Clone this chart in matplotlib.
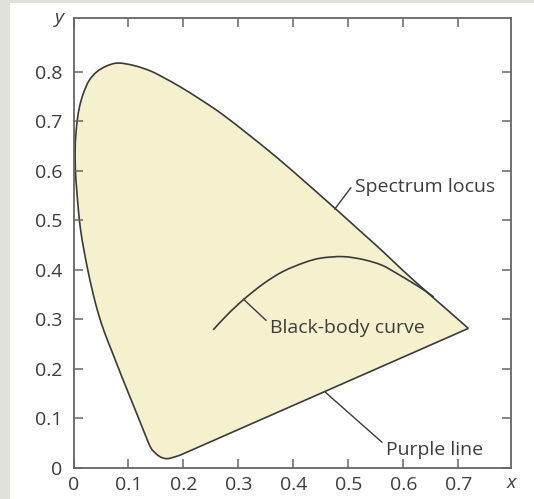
import numpy as np
import matplotlib.pyplot as plt
from matplotlib.patches import Rectangle, PathPatch
from matplotlib.path import Path

# chromaticity coordinates
locus_x = [0.718, 0.680, 0.642, 0.600, 0.560, 0.520, 0.475, 0.420, 0.370, 0.320,
           0.270, 0.230, 0.194, 0.165, 0.140, 0.110, 0.081,
           0.060, 0.042, 0.028, 0.018, 0.011, 0.007, 0.004, 0.003, 0.0035, 0.006,
           0.009, 0.013, 0.019, 0.026, 0.035, 0.045, 0.057, 0.069, 0.088, 0.1135,
           0.133, 0.141, 0.149, 0.157, 0.165, 0.172, 0.180, 0.194]
locus_y = [0.282, 0.319, 0.356, 0.398, 0.440, 0.480, 0.525, 0.579, 0.627, 0.672,
           0.715, 0.745, 0.770, 0.788, 0.802, 0.813, 0.818,
           0.812, 0.800, 0.782, 0.757, 0.730, 0.703, 0.670, 0.642, 0.600, 0.560,
           0.520, 0.480, 0.440, 0.400, 0.355, 0.3125, 0.272, 0.238, 0.184, 0.114,
           0.060, 0.040, 0.030, 0.023, 0.0195, 0.019, 0.021, 0.026]

blackbody_x = [0.254, 0.280, 0.309, 0.345, 0.381, 0.420, 0.450, 0.490, 0.527,
               0.560, 0.588, 0.615, 0.642, 0.655]
blackbody_y = [0.279, 0.310, 0.340, 0.372, 0.397, 0.415, 0.424, 0.427, 0.421,
               0.410, 0.393, 0.375, 0.356, 0.345]

x_ticks = [0, 0.1, 0.2, 0.3, 0.4, 0.5, 0.6, 0.7]
y_ticks = [0, 0.1, 0.2, 0.3, 0.4, 0.5, 0.6, 0.7, 0.8]
tick_labels_x = ["0", "0.1", "0.2", "0.3", "0.4", "0.5", "0.6", "0.7"]
tick_labels_y = ["0", "0.1", "0.2", "0.3", "0.4", "0.5", "0.6", "0.7", "0.8"]

labels = ["Spectrum locus", "Black-body curve", "Purple line"]
label_xy = [(0.511, 0.567), (0.357, 0.282), (0.568, 0.036)]
leader_from = [(0.475, 0.523), (0.309, 0.341), (0.458, 0.153)]

txt = '#3d3d3d'
line = '#3a3a3a'
spine = '#666666'


def smooth_path(xs, ys, closed_tail=None):
    # Catmull-Rom through the points, drawn as cubic Bezier segments
    pts = np.column_stack([xs, ys])
    verts = [pts[0]]
    codes = [Path.MOVETO]
    n = len(pts)
    for i in range(n - 1):
        p0 = pts[max(i - 1, 0)]
        p1, p2 = pts[i], pts[i + 1]
        p3 = pts[min(i + 2, n - 1)]
        verts += [p1 + (p2 - p0) / 6, p2 - (p3 - p1) / 6, p2]
        codes += [Path.CURVE4] * 3
    if closed_tail is not None:
        verts.append(closed_tail)
        codes.append(Path.LINETO)
    return Path(verts, codes)


plt.rcParams['font.family'] = ['Open Sans', 'DejaVu Sans']

fig = plt.figure(figsize=(5.34, 4.99), dpi=100, facecolor='#dfe1da')
fig.patches.append(Rectangle((10 / 534, 0), 1, 496 / 499, transform=fig.transFigure,
                             facecolor='white', edgecolor='none', zorder=-10))
ax = fig.add_axes([73.5 / 534, 31 / 499, 437.5 / 534, 450 / 499])
ax.set_facecolor('white')

# locus as a smooth curve, closed by the straight purple line
locus = smooth_path(locus_x, locus_y, closed_tail=(locus_x[0], locus_y[0]))
ax.add_patch(PathPatch(locus, facecolor='#f5f0cd', edgecolor=line, lw=1.2,
                       joinstyle='round', zorder=1))
bb = smooth_path(blackbody_x, blackbody_y)
ax.add_patch(PathPatch(bb, facecolor='none', edgecolor=line, lw=1.2, zorder=2))

ax.set_xlim(0, 0.7955)
ax.set_ylim(0, 0.909)
ax.set_xticks(x_ticks, tick_labels_x)
ax.set_yticks(y_ticks, tick_labels_y)
ax.tick_params(direction='in', length=6.5, width=1.1, color=spine, labelcolor=txt,
               labelsize=14, top=True, right=True)
ax.tick_params(axis='x', pad=6)
ax.tick_params(axis='y', pad=8)
for s in ax.spines.values():
    s.set_color(spine)
    s.set_linewidth(1.3)

ax.text(1.0, -0.033, "x", transform=ax.transAxes, ha='center', va='center',
        style='italic', fontsize=14, color=txt)
ax.text(-0.032, 1.0, "y", transform=ax.transAxes, ha='center', va='center',
        style='italic', fontsize=14, color=txt)

for lab, p, q in zip(labels, leader_from, label_xy):
    ax.annotate(lab, xy=p, xytext=q, ha='left', va='center',
                fontsize=14, color=txt,
                arrowprops=dict(arrowstyle='-', color=line, lw=1.0,
                                shrinkA=1, shrinkB=0, relpos=(0, 0.75)))

fig.savefig('out.png', dpi=100, facecolor=fig.get_facecolor())
